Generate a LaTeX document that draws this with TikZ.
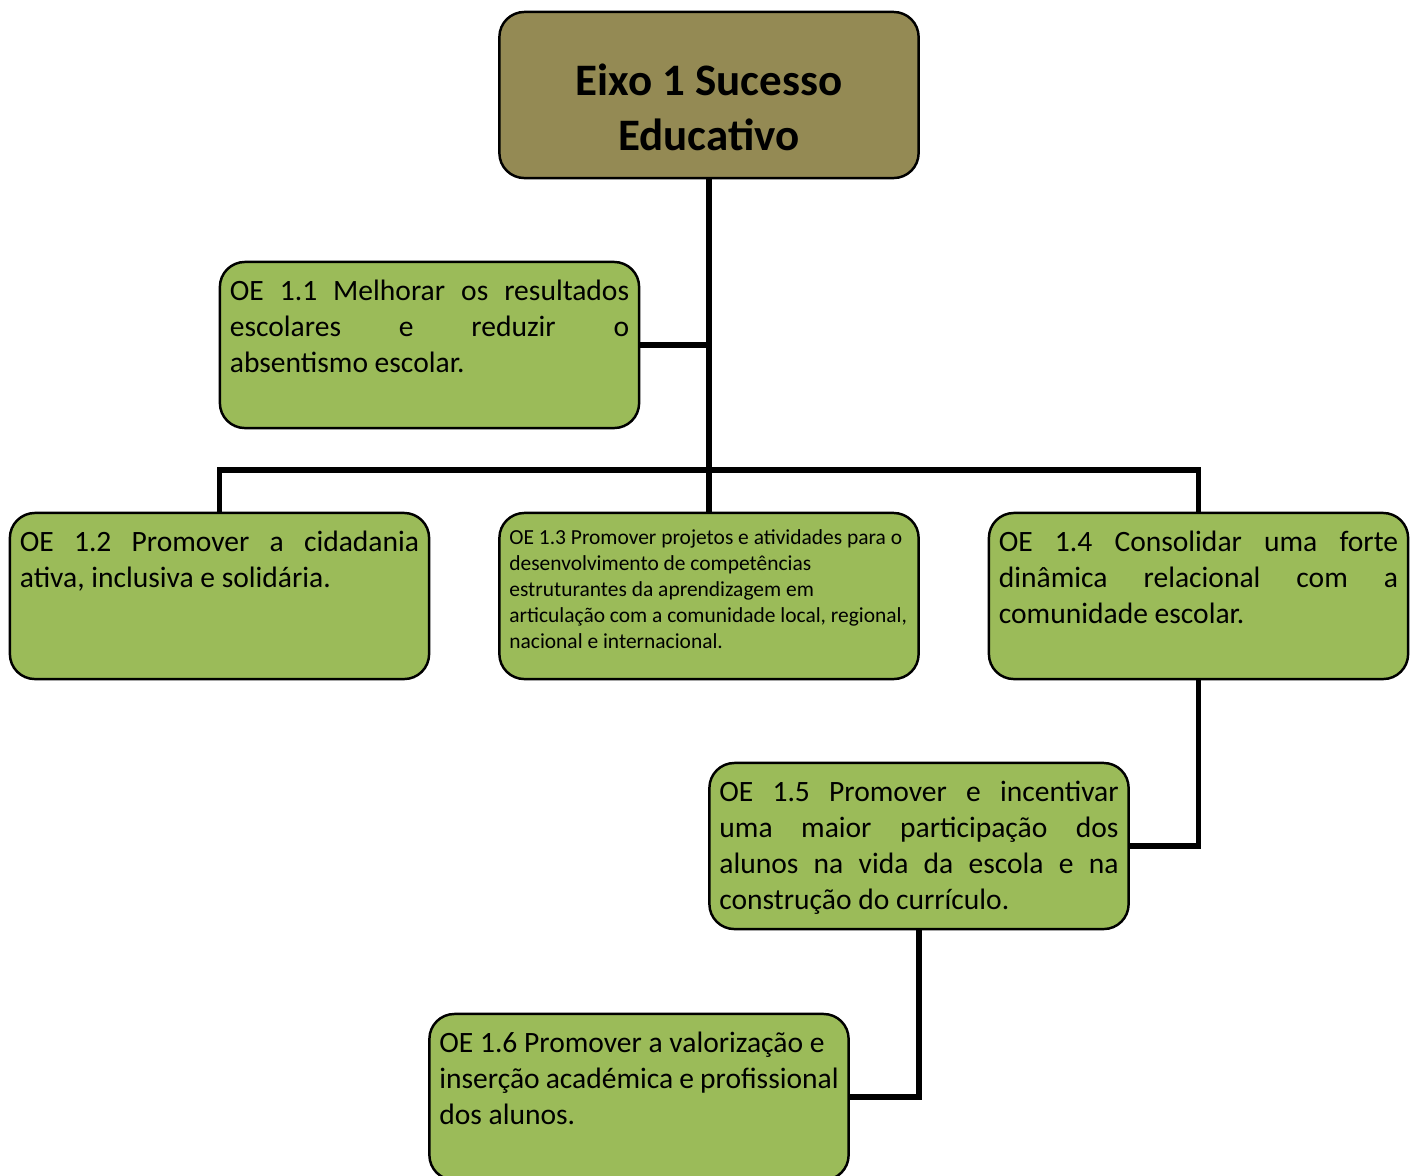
\documentclass[tikz,border=0pt]{standalone}
\usepackage{fontspec}
\setmainfont{Carlito}
\usetikzlibrary{positioning}

\definecolor{olivebox}{HTML}{948A54}
\definecolor{greenbox}{HTML}{9BBB59}

% text inside the objective boxes (top aligned)
\newcommand{\boxtext}[1]{\parbox[c][1.46cm][t]{3.99cm}{\hyphenpenalty=10000\vspace*{0.03cm}\strut#1}}

\begin{document}
\begin{tikzpicture}[x=0.01cm, y=-0.01cm,
    oebox/.style={draw=black, line width=0.7pt, rounded corners=0.25cm, fill=greenbox,
                  minimum width=4.19cm, minimum height=1.66cm, inner sep=0pt,
                  font=\fontsize{8.4}{10.25}\selectfont},
    small/.style={font=\fontsize{6.1}{7.4}\selectfont},
    link/.style={line width=1.5pt, line join=miter}]
    \useasboundingbox (0,0) rectangle (1419,1175);

    % Axis box
    \node[oebox, fill=olivebox, font=\bfseries\fontsize{12.8}{15.6}\selectfont]
        (eixo) at (709,95) {\parbox[c][1.46cm][t]{3.99cm}{\centering\vspace*{0.42cm}Eixo 1 Sucesso\\Educativo}};

    % Objectives
    \node[oebox] (oe11) at (429.5,345) {\boxtext{OE 1.1 Melhorar os resultados\linebreak escolares e reduzir o\linebreak absentismo escolar.}};
    \node[oebox] (oe12) at (219.5,596) {\boxtext{OE 1.2 Promover a cidadania\linebreak ativa, inclusiva e solidária.}};
    \node[oebox, small] (oe13) at (709,596) {\boxtext{\raggedright OE 1.3 Promover projetos e atividades para o\\ desenvolvimento de competências\\ estruturantes da aprendizagem em\\ articulação com a comunidade local, regional,\\ nacional e internacional.}};
    \node[oebox] (oe14) at (1198.5,596) {\boxtext{OE 1.4 Consolidar uma forte\linebreak dinâmica relacional com a\linebreak comunidade escolar.}};
    \node[oebox] (oe15) at (919,846) {\boxtext{OE 1.5 Promover e incentivar\linebreak uma maior participação dos\linebreak alunos na vida da escola e na\linebreak construção do currículo.}};
    \node[oebox] (oe16) at (639,1097) {\boxtext{\raggedright OE 1.6 Promover a valorização e\\ inserção académica e profissional\\ dos alunos.}};

    % Connectors
    \coordinate (bus) at (709,470);
    \draw[link] (eixo.south) -- (oe13.north);
    \draw[link] (oe11.east) -- (oe11.east -| eixo.south);
    \draw[link] (oe12.north) |- (bus) -| (oe14.north);
    \draw[link] (oe14.south) |- (oe15.east);
    \draw[link] (oe15.south) |- (oe16.east);
\end{tikzpicture}
\end{document}
